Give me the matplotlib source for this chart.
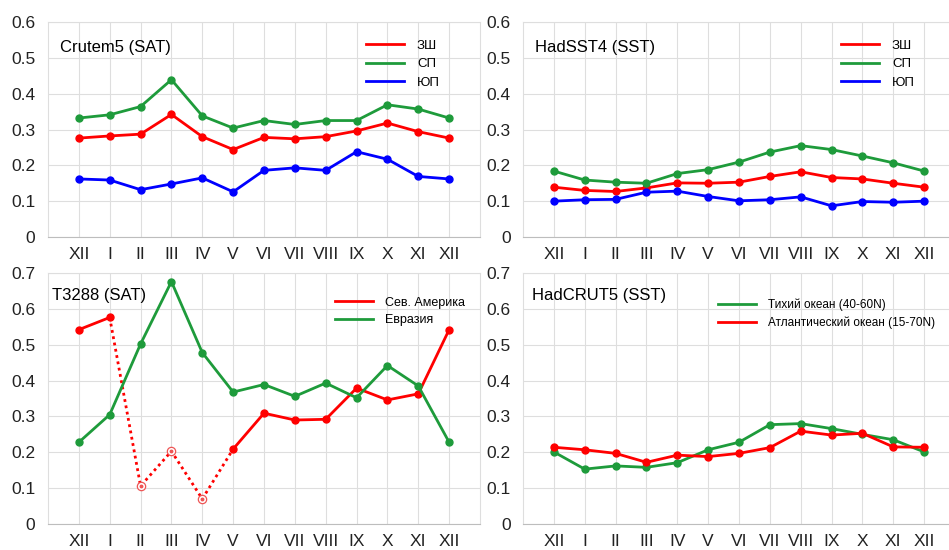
import numpy as np
import matplotlib

matplotlib.use('Agg')
import matplotlib.pyplot as plt
from matplotlib.lines import Line2D

plt.rcParams['font.family'] = ['Liberation Sans', 'DejaVu Sans']

# month labels, December repeated at both ends
months = ['XII', 'I', 'II', 'III', 'IV', 'V', 'VI', 'VII', 'VIII', 'IX', 'X', 'XI', 'XII']

# Crutem5 (SAT)
crutem_glob = [0.276, 0.282, 0.287, 0.342, 0.280, 0.244, 0.278, 0.274, 0.280, 0.296, 0.318, 0.294, 0.276]
crutem_nh = [0.332, 0.341, 0.364, 0.439, 0.338, 0.304, 0.325, 0.314, 0.325, 0.325, 0.369, 0.357, 0.332]
crutem_sh = [0.162, 0.159, 0.132, 0.148, 0.165, 0.126, 0.186, 0.193, 0.186, 0.238, 0.217, 0.169, 0.162]

# HadSST4 (SST)
hadsst_glob = [0.139, 0.130, 0.127, 0.137, 0.151, 0.150, 0.153, 0.169, 0.182, 0.166, 0.162, 0.150, 0.139]
hadsst_nh = [0.184, 0.159, 0.153, 0.150, 0.177, 0.188, 0.209, 0.237, 0.255, 0.244, 0.226, 0.207, 0.184]
hadsst_sh = [0.100, 0.104, 0.105, 0.125, 0.128, 0.113, 0.101, 0.104, 0.112, 0.087, 0.099, 0.097, 0.100]

# T3288 (SAT)
t3288_namerica = [0.542, 0.576, 0.106, 0.203, 0.070, 0.209, 0.309, 0.290, 0.292, 0.379, 0.346, 0.363, 0.542]
t3288_eurasia = [0.228, 0.305, 0.502, 0.676, 0.478, 0.368, 0.389, 0.356, 0.393, 0.352, 0.442, 0.385, 0.228]
# months of the N. America series shown dotted / hollow
t3288_weak = [2, 3, 4]

# HadCRUT5 (SST)
hadcrut_pacific = [0.201, 0.153, 0.162, 0.158, 0.171, 0.207, 0.228, 0.277, 0.280, 0.266, 0.250, 0.235, 0.201]
hadcrut_atlantic = [0.214, 0.207, 0.197, 0.172, 0.192, 0.188, 0.197, 0.213, 0.259, 0.248, 0.253, 0.215, 0.214]

RED = '#ff0000'
GREEN = '#1e9b3b'
BLUE = '#0000ff'
GRID = '#dedede'

W, H = 949.0, 550.0


def make_axes(fig, px_left, px_top, px_bottom, ymax):
    ax = fig.add_axes([px_left / W, 1 - px_bottom / H, 432 / W, (px_bottom - px_top) / H])
    ax.set_xlim(-1, 13)
    ax.set_ylim(0, ymax)
    ax.set_xticks(range(len(months)))
    ax.set_xticklabels(months)
    yt = np.round(np.arange(0, ymax + 0.001, 0.1), 1)
    ax.set_yticks(yt)
    ax.set_yticklabels(['0' if v == 0 else '%.1f' % v for v in yt])
    ax.tick_params(axis='both', length=0, labelsize=12.5, colors='#222222')
    ax.tick_params(axis='y', pad=9)
    ax.tick_params(axis='x', pad=7)
    ax.grid(True, color=GRID, linewidth=0.8)
    ax.set_axisbelow(True)
    for s in ax.spines.values():
        s.set_color(GRID)
        s.set_linewidth(0.8)
    ax.spines['bottom'].set_color('#bdbdbd')
    return ax


def plot_series(ax, y, color):
    x = np.arange(len(y))
    ax.plot(x, y, color=color, linewidth=2, marker='o', markersize=5)


def add_legend(ax, labels, colors, x, y, fontsize, spacing, textpad):
    handles = [Line2D([], [], color=c, linewidth=2) for c in colors]
    fs_px = fontsize * 100 / 72.0
    ax.legend(handles, labels, loc='upper left', bbox_to_anchor=(x, y), frameon=False,
              fontsize=fontsize, borderpad=0, borderaxespad=0, handlelength=38 / fs_px,
              handletextpad=textpad / fs_px, labelspacing=spacing)


fig = plt.figure(figsize=(W / 100, H / 100), dpi=100)

# top left
ax1 = make_axes(fig, 48, 22, 237, 0.6)
plot_series(ax1, crutem_glob, RED)
plot_series(ax1, crutem_nh, GREEN)
plot_series(ax1, crutem_sh, BLUE)
ax1.text(0.028, 0.88, 'Crutem5 (SAT)', transform=ax1.transAxes, fontsize=12, va='center')
add_legend(ax1, ['ЗШ', 'СП', 'ЮП'], [RED, GREEN, BLUE], 0.736, 0.918, 9.5, 0.48, 13)

# top right
ax2 = make_axes(fig, 523, 22, 237, 0.6)
plot_series(ax2, hadsst_glob, RED)
plot_series(ax2, hadsst_nh, GREEN)
plot_series(ax2, hadsst_sh, BLUE)
ax2.text(0.028, 0.88, 'HadSST4 (SST)', transform=ax2.transAxes, fontsize=12, va='center')
add_legend(ax2, ['ЗШ', 'СП', 'ЮП'], [RED, GREEN, BLUE], 0.736, 0.918, 9.5, 0.48, 13)

# bottom left
ax3 = make_axes(fig, 48, 273, 524, 0.7)
x = np.arange(len(t3288_namerica))
na = np.array(t3288_namerica, dtype=float)
solid = na.copy()
solid[t3288_weak] = np.nan
lo, hi = t3288_weak[0] - 1, t3288_weak[-1] + 1
ax3.plot(x[lo:hi + 1], na[lo:hi + 1], color=RED, linewidth=2, linestyle=(0, (1, 1.3)))
ax3.plot(x, solid, color=RED, linewidth=2, marker='o', markersize=5)
ax3.plot(x[t3288_weak], na[t3288_weak], linestyle='none', marker='o', markersize=6,
         markerfacecolor='white', markeredgecolor='#ee5555', markeredgewidth=0.9)
ax3.plot(x[t3288_weak], na[t3288_weak], linestyle='none', marker='o', markersize=1.8,
         color='#ee5555')
plot_series(ax3, t3288_eurasia, GREEN)
ax3.text(0.009, 0.912, 'T3288 (SAT)', transform=ax3.transAxes, fontsize=12, va='center')
add_legend(ax3, ['Сев. Америка', 'Евразия'], [RED, GREEN], 0.664, 0.905, 9, 0.45, 12)

# bottom right
ax4 = make_axes(fig, 523, 273, 524, 0.7)
plot_series(ax4, hadcrut_pacific, GREEN)
plot_series(ax4, hadcrut_atlantic, RED)
ax4.text(0.021, 0.912, 'HadCRUT5 (SST)', transform=ax4.transAxes, fontsize=12, va='center')
add_legend(ax4, ['Тихий океан (40-60N)', 'Атлантический океан (15-70N)'], [GREEN, RED],
           0.451, 0.899, 8.5, 0.45, 12)

fig.savefig('out.png', dpi=100)
plt.close(fig)
